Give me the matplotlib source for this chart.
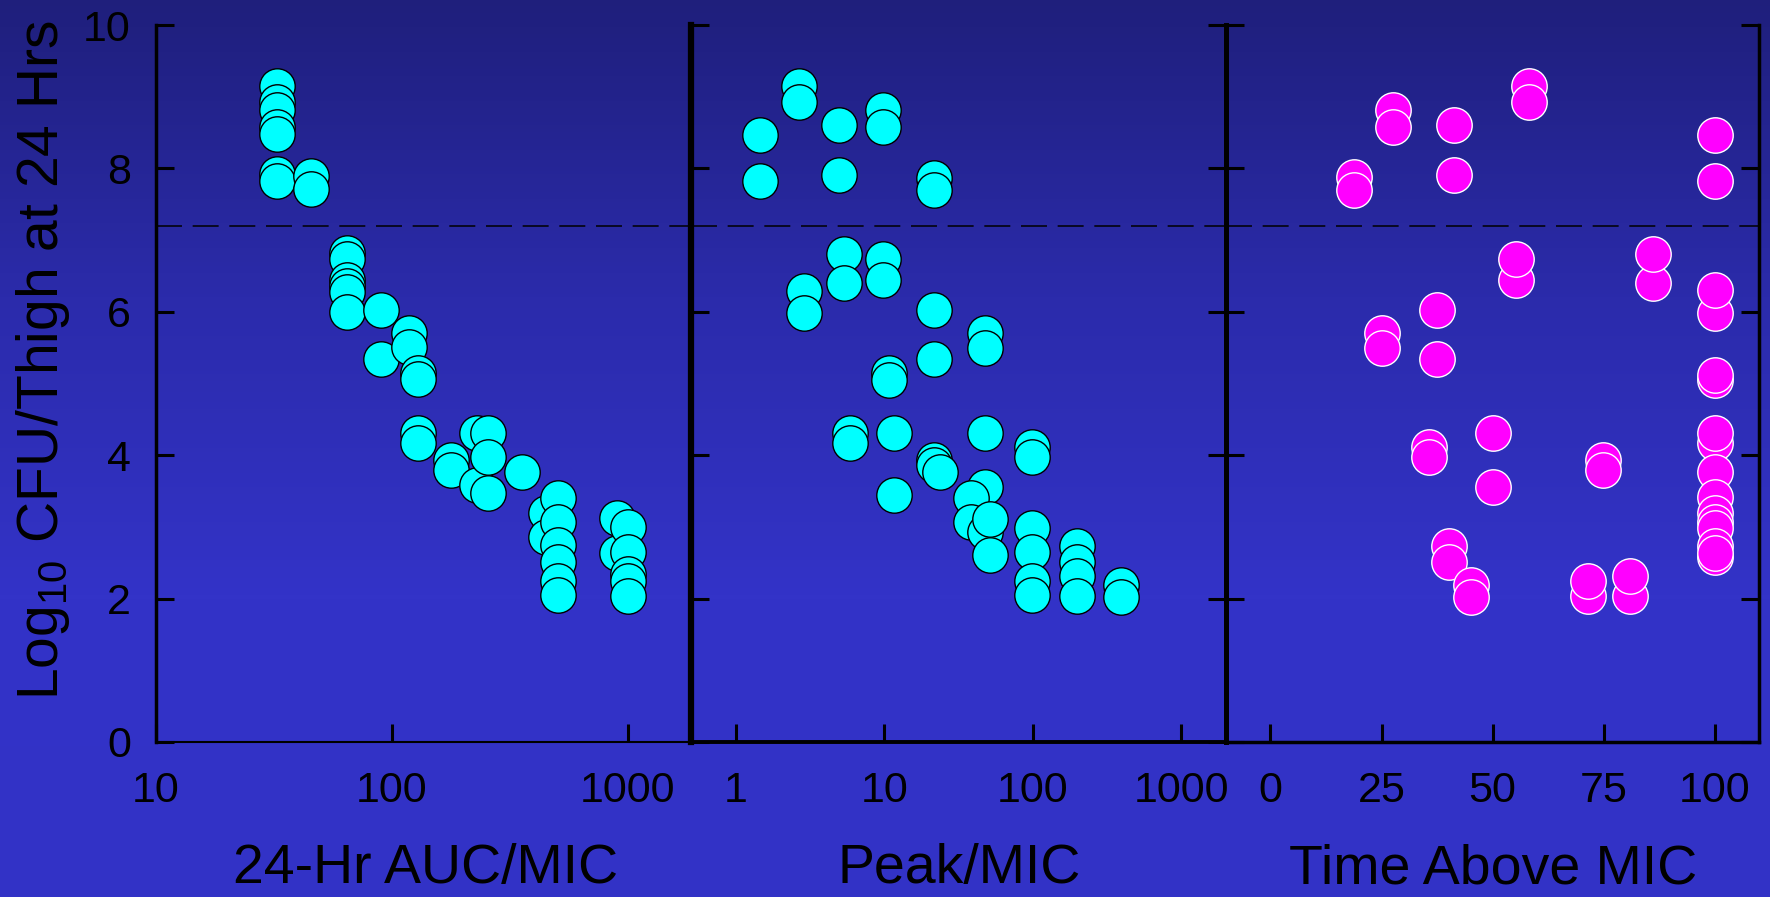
import numpy as np
import matplotlib
matplotlib.use("Agg")
import matplotlib.pyplot as plt
from matplotlib.colors import LinearSegmentedColormap

plt.rcParams['font.family'] = ['Liberation Sans', 'DejaVu Sans']
plt.rcParams['mathtext.fontset'] = 'custom'
plt.rcParams['mathtext.rm'] = 'Liberation Sans'
plt.rcParams['mathtext.it'] = 'Liberation Sans'

# log10 CFU/thigh at 24 h vs three PK/PD indices
auc_mic = [32.5, 32.5, 32.5, 32.5, 32.5, 32.5, 32.5, 45.3, 45.3,
           64.4, 64.4, 64.4, 64.4, 64.4, 64.4, 89.6, 89.6, 118, 118,
           129, 129, 129, 129, 178, 178, 230, 230, 255, 255, 255, 355,
           449, 449, 507, 507, 507, 507, 507, 507, 896, 896,
           1000, 1000, 1000, 1000, 1000]
auc_cfu = [9.15, 8.93, 8.81, 8.58, 8.48, 7.92, 7.82, 7.89, 7.71,
           6.82, 6.73, 6.45, 6.36, 6.28, 6.00, 6.03, 5.34, 5.71, 5.51,
           5.14, 5.06, 4.31, 4.17, 3.93, 3.79, 4.31, 3.58, 4.31, 3.98, 3.47, 3.77,
           3.19, 2.86, 3.40, 3.07, 2.75, 2.51, 2.24, 2.05, 3.12, 2.63,
           3.00, 2.65, 2.35, 2.24, 2.03]

peak_mic = [1.45, 1.45, 2.68, 2.68, 4.94, 4.94, 9.77, 9.77, 21.6, 21.6,
            2.9, 2.9, 5.37, 5.37, 9.83, 9.83, 21.6, 21.6, 47.3, 47.3,
            10.7, 10.7, 5.85, 5.85, 11.6, 11.6, 21.6, 21.6, 23.6,
            47.3, 47.3, 38.3, 38.3, 47.3, 51.4, 51.4,
            98.4, 98.4, 98.4, 98.4, 98.4, 98.4, 197, 197, 197, 197, 394, 394]
peak_cfu = [8.46, 7.82, 9.15, 8.92, 8.60, 7.91, 8.81, 8.58, 7.87, 7.70,
            6.29, 5.99, 6.81, 6.40, 6.73, 6.44, 6.02, 5.34, 5.71, 5.50,
            5.14, 5.05, 4.31, 4.17, 4.31, 3.45, 3.93, 3.86, 3.77,
            4.31, 3.55, 3.40, 3.07, 2.93, 3.11, 2.61,
            4.12, 3.98, 2.99, 2.65, 2.24, 2.05, 2.74, 2.51, 2.31, 2.04, 2.19, 2.02]

time_mic = [18.7, 18.7, 27.5, 27.5, 41.3, 41.3, 58.3, 58.3, 100, 100,
            55.3, 55.3, 86.2, 86.2, 100, 100, 37.4, 37.4, 25.0, 25.0, 100, 100,
            35.6, 35.6, 50.1, 50.1, 74.8, 74.8,
            100, 100, 100, 100, 100, 100, 100, 100, 100, 100,
            40.3, 40.3, 45.1, 45.1, 71.4, 71.4, 80.9, 80.9]
time_cfu = [7.88, 7.70, 8.81, 8.58, 8.60, 7.91, 9.15, 8.92, 8.46, 7.82,
            6.44, 6.74, 6.40, 6.81, 5.99, 6.30, 6.02, 5.34, 5.71, 5.50, 5.05, 5.12,
            4.12, 3.98, 4.31, 3.55, 3.93, 3.79,
            4.17, 4.31, 3.77, 3.42, 3.19, 3.07, 2.99, 2.74, 2.58, 2.63,
            2.74, 2.51, 2.19, 2.02, 2.04, 2.24, 2.04, 2.31]

stasis = 7.2

fig = plt.figure(figsize=(17.7, 8.97), dpi=100)

# gradient background
bg = fig.add_axes([0, 0, 1, 1], zorder=-10)
cmap = LinearSegmentedColormap.from_list('bg', ['#1f1f7c', '#2b2bab', '#3333c8', '#3232c6'])
bg.imshow(np.linspace(0, 1, 256).reshape(-1, 1), aspect='auto', cmap=cmap,
          extent=[0, 1, 0, 1], origin='upper')
bg.axis('off')

bottom, height = 0.1728, 0.7993
ax1 = fig.add_axes([0.0881, bottom, 0.3023, height])
ax2 = fig.add_axes([0.3904, bottom, 0.3023, height])
ax3 = fig.add_axes([0.6927, bottom, 0.3011, height])

ms = 25.5
for ax, xs, ys, fc, ec in [(ax1, auc_mic, auc_cfu, '#00ffff', 'black'),
                           (ax2, peak_mic, peak_cfu, '#00ffff', 'black'),
                           (ax3, time_mic, time_cfu, '#ff00ff', 'white')]:
    ax.set_facecolor('none')
    ax.plot(xs, ys, 'o', ms=ms, mfc=fc, mec=ec, mew=1.0, zorder=3, clip_on=False)
    ax.axhline(stasis, color='black', lw=1.1, ls=(0, (17, 7)), zorder=2)
    ax.set_ylim(0, 10)
    ax.set_yticks([0, 2, 4, 6, 8, 10])
    ax.spines['top'].set_visible(False)
    ax.tick_params(axis='both', direction='in', length=13, width=2.2,
                   labelsize=31, colors='black')
    ax.tick_params(axis='x', pad=21)
    ax.tick_params(axis='y', pad=18)

ax1.set_xscale('log')
ax1.set_xlim(10, 1854)
ax1.set_xticks([10, 100, 1000])
ax1.set_xticklabels(['10', '100', '1000'])
ax1.xaxis.set_minor_locator(matplotlib.ticker.NullLocator())
ax1.spines['right'].set_visible(False)
ax1.spines['left'].set_linewidth(2.5)
ax1.spines['bottom'].set_linewidth(1.5)

ax2.set_xscale('log')
ax2.set_xlim(0.5, 2000)
ax2.set_xticks([1, 10, 100, 1000])
ax2.set_xticklabels(['1', '10', '100', '1000'])
ax2.xaxis.set_minor_locator(matplotlib.ticker.NullLocator())
ax2.tick_params(axis='y', labelleft=False, right=True)
ax2.spines['left'].set_linewidth(4.5)
ax2.spines['right'].set_linewidth(3.5)
ax2.spines['bottom'].set_linewidth(2.8)

ax3.set_xlim(-10, 110)
ax3.set_xticks([0, 25, 50, 75, 100])
ax3.tick_params(axis='y', labelleft=False, right=True)
ax3.spines['left'].set_linewidth(3.5)
ax3.spines['right'].set_linewidth(2.5)
ax3.spines['bottom'].set_linewidth(2.5)

fig.text(43 / 1770, 1 - 360 / 897, 'Log$_{10}$ CFU/Thigh at 24 Hrs', rotation=90,
         ha='center', va='center', fontsize=41)
fig.text(426 / 1770, 0.002, '24-Hr AUC/MIC', ha='center', va='bottom', fontsize=40)
fig.text(959 / 1770, 0.002, 'Peak/MIC', ha='center', va='bottom', fontsize=40)
fig.text(1493 / 1770, 0.002, 'Time Above MIC', ha='center', va='bottom', fontsize=40)

fig.savefig('out.png', dpi=100)
